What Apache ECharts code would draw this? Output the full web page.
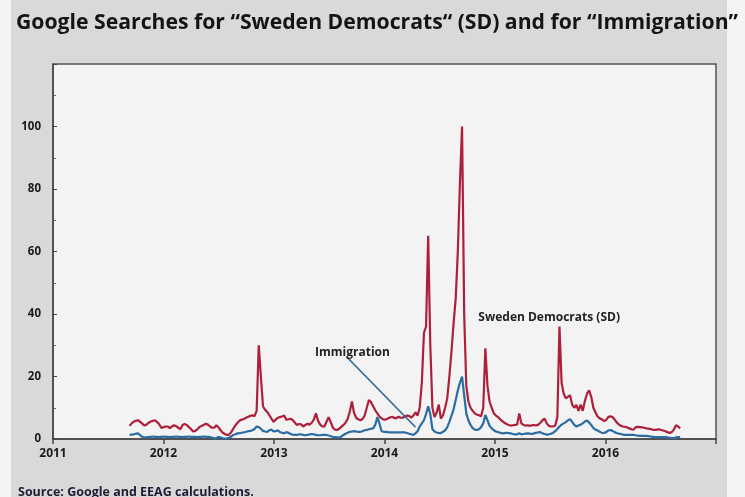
<!DOCTYPE html>
<html>
<head>
<meta charset="utf-8">
<script src="https://cdn.jsdelivr.net/npm/echarts@6/dist/echarts.min.js"></script>
<style>
  html, body { margin: 0; padding: 0; background: #f4f4f4; }
  #chart { width: 745px; height: 497px; }
</style>
</head>
<body>
<div id="chart"></div>
<script>
// Weekly Google search index, first week starting 2011-09-11
const firstWeekYear = 2011.693;
const weekInYears = 7 / 365.25;

const sdSearches = [
  4.2, 5, 5.6, 5.8, 6, 5.5, 4.9, 4.3, 4.6, 5.2,
  5.6, 5.8, 6, 5.4, 4.7, 3.5, 3.8, 4, 4, 3.5,
  4, 4.4, 4.1, 3.6, 3.1, 4.5, 4.8, 4.5, 3.8, 3.2,
  2.4, 2.6, 3.1, 3.8, 4.2, 4.5, 4.9, 4.6, 4, 3.6,
  3.6, 4.4, 3.7, 2.8, 2, 1.6, 1.3, 1.4, 2.2, 3.3,
  4.4, 5.2, 5.9, 6.2, 6.4, 6.8, 7.1, 7.4, 7.6, 7.3,
  9, 30, 20, 10.5, 9.3, 8.7, 7.6, 6.5, 5.5, 6.2,
  6.8, 7, 7.2, 7.5, 6.2, 6.3, 6.5, 6.1, 5.3, 4.5,
  4.8, 4.7, 4, 4.5, 4.9, 4.6, 5.2, 6.2, 8.2, 5.8,
  4.6, 4, 4, 5.5, 7, 5.4, 3.6, 3, 2.9, 3.3,
  3.9, 4.5, 5.2, 6.5, 8.8, 12, 8.3, 6.8, 6.3, 6,
  6.4, 7.5, 10, 12.5, 11.8, 10.5, 9.2, 8.2, 7.2, 6.6,
  6.2, 6.2, 6.6, 6.9, 7.1, 6.7, 6.7, 7.1, 6.8, 6.8,
  7.2, 7.5, 7.4, 6.8, 7.5, 8.5, 7.5, 10, 18, 34,
  36, 65, 30, 10, 7, 8.5, 11, 6.5, 7.6, 10,
  13, 20, 28, 37, 45, 60, 82, 100, 40, 17,
  12, 10, 9, 8.2, 7.8, 7.6, 7.3, 10, 29, 17,
  12, 10, 8.2, 7.5, 7, 6.3, 5.7, 5.2, 4.8, 4.5,
  4.3, 4.4, 4.5, 4.6, 8.2, 5, 4.5, 4.3, 4.4, 4.2,
  4.4, 4.5, 4.3, 4.6, 5.2, 6, 6.5, 5, 4.2, 4,
  4, 4.3, 7, 36, 18, 14.5, 13, 13.5, 14, 11,
  10, 10.9, 9, 11, 9, 12.2, 14.5, 15.6, 13.5, 10,
  8.5, 7.2, 6.6, 6.3, 5.8, 6, 7, 7.3, 7, 6.3,
  5.3, 4.7, 4.2, 4, 3.9, 3.7, 3.4, 3.1, 3, 3.8,
  3.9, 3.8, 3.7, 3.6, 3.4, 3.3, 3.2, 3, 2.9, 3,
  3.1, 2.9, 2.7, 2.5, 2.2, 1.9, 2.2, 3, 4.4, 4, 3.4
];

const immigrationSearches = [
  1.3, 1.4, 1.5, 1.7, 1.8, 1.2, 0.7, 0.5, 0.5, 0.6,
  0.7, 0.8, 0.7, 0.7, 0.6, 0.7, 0.8, 0.7, 0.7, 0.6,
  0.7, 0.7, 0.8, 0.7, 0.7, 0.6, 0.7, 0.7, 0.8, 0.7,
  0.7, 0.7, 0.6, 0.7, 0.7, 0.8, 0.7, 0.7, 0.6, 0.4,
  0.2, 0.3, 0.6, 0.5, 0.2, 0.1, 0.2, 0.4, 0.8, 1.3,
  1.5, 1.8, 1.9, 2, 2.1, 2.3, 2.5, 2.6, 2.8, 3.2,
  4, 3.8, 3.3, 2.6, 2.4, 2.3, 2.8, 3, 2.4, 2.5,
  2.8, 2.2, 2, 1.8, 2.2, 2, 1.6, 1.4, 1.3, 1.3,
  1.5, 1.5, 1.3, 1.2, 1.3, 1.5, 1.6, 1.5, 1.3, 1.2,
  1.2, 1.3, 1.3, 1.3, 1.1, 0.9, 0.7, 0.6, 0.5, 0.4,
  0.8, 1.3, 1.7, 2, 2.3, 2.4, 2.5, 2.4, 2.3, 2.3,
  2.5, 2.8, 2.9, 3.1, 3.3, 3.4, 4.5, 7, 5, 2.5,
  2.3, 2.3, 2.2, 2.1, 2.1, 2.1, 2.1, 2.1, 2.1, 2.1,
  2.1, 1.9, 1.7, 1.5, 1.3, 1.8, 2.5, 4, 5, 6,
  8, 10.5, 8, 3.2, 2.4, 2.1, 1.9, 1.9, 2.3, 2.8,
  3.7, 5.5, 7.5, 9.5, 12.5, 15.5, 18, 20, 14, 8.2,
  6, 4.5, 3.5, 3, 2.9, 3.1, 3.8, 5, 7.7, 6,
  4.2, 3.4, 2.8, 2.4, 2.2, 2, 1.8, 1.9, 2, 1.9,
  1.8, 1.6, 1.5, 1.5, 1.8, 1.5, 1.6, 1.7, 1.8, 1.7,
  1.6, 1.8, 2, 2.1, 2.2, 1.8, 1.6, 1.4, 1.5, 1.7,
  2, 2.5, 3.2, 4, 4.6, 5, 5.4, 6, 6.3, 5.5,
  4.5, 4, 4.3, 4.6, 5, 5.6, 5.9, 5.3, 4.5, 3.5,
  3, 2.7, 2.3, 2, 1.9, 2.2, 2.7, 2.9, 2.6, 2.2,
  1.9, 1.7, 1.6, 1.4, 1.3, 1.3, 1.3, 1.3, 1.3, 1.2,
  1.1, 1, 1, 1, 1, 0.9, 0.8, 0.7, 0.6, 0.6,
  0.6, 0.6, 0.6, 0.6, 0.5, 0.4, 0.3, 0.3, 0.5, 0.6, 0.6
];

const yearTicks = [2011, 2012, 2013, 2014, 2015, 2016, 2017];
const yTicks = [0, 20, 40, 60, 80, 100, 120];

const titleText = 'Google Searches for \u201CSweden Democrats\u201C (SD) and for \u201CImmigration\u201D';
const sourceText = 'Source: Google and EEAG calculations.';
const sdLabel = 'Sweden Democrats (SD)';
const immLabel = 'Immigration';

// annotation anchors (in data units)
const sdLabelAt = [2015.49, 39];
const immLabelAt = [2013.71, 27.8];
const immLeader = [[2013.66, 26.2], [2014.28, 3.8]];

const weekYear = i => +(firstWeekYear + i * weekInYears).toFixed(4);
const sdData = sdSearches.map((v, i) => [weekYear(i), v]);
const immData = immigrationSearches.map((v, i) => [weekYear(i), v]);

const chart = echarts.init(document.getElementById('chart'));
const labelFont = { fontFamily: '"Open Sans", Lato, sans-serif', fontWeight: 'bold' };

chart.setOption({
  backgroundColor: '#f4f4f4',
  animation: false,
  graphic: [
    { type: 'rect', z: -10, shape: { x: 11, y: 0, width: 716, height: 497 }, style: { fill: '#d9d9d9' } }
  ],
  title: [
    {
      text: titleText, left: 11, top: 7,
      textStyle: { fontSize: 21.2, fontWeight: 'bold', color: '#141414', fontFamily: '"Open Sans", Lato, sans-serif' }
    },
    {
      text: sourceText, left: 13, top: 481,
      textStyle: { fontSize: 12.5, fontWeight: 'bold', color: '#1d1d35', fontFamily: '"Open Sans", Lato, sans-serif' }
    }
  ],
  grid: {
    left: 53, right: 29, top: 64, bottom: 58,
    show: true, backgroundColor: '#f3f3f3', borderColor: '#555', borderWidth: 1.5
  },
  xAxis: {
    type: 'value', min: yearTicks[0], max: yearTicks[yearTicks.length - 1], interval: 1,
    axisLine: { show: true, lineStyle: { color: '#444', width: 1.5 } },
    axisTick: { show: true, inside: false, length: 5, lineStyle: { color: '#444', width: 1.5 } },
    splitLine: { show: false },
    axisLabel: {
      margin: 9, fontSize: 12, color: '#1a1a1a', ...labelFont,
      formatter: v => (v === yearTicks[yearTicks.length - 1] ? '' : String(v))
    }
  },
  yAxis: {
    type: 'value', min: yTicks[0], max: yTicks[yTicks.length - 1], interval: 20,
    axisLine: { show: true, lineStyle: { color: '#444', width: 1.5 } },
    axisTick: { show: true, inside: true, length: 4, lineStyle: { color: '#444' } },
    minorTick: { show: true, splitNumber: 2, length: 3, lineStyle: { color: '#666' } },
    splitLine: { show: false },
    axisLabel: {
      margin: 12, fontSize: 11.5, color: '#1a1a1a', ...labelFont,
      formatter: v => (v === yTicks[yTicks.length - 1] ? '' : String(v))
    }
  },
  series: [
    {
      name: sdLabel, type: 'line', data: sdData, showSymbol: false,
      lineStyle: { color: '#ad1f3a', width: 2.2 }, z: 3,
      markPoint: {
        symbol: 'circle', symbolSize: 0, silent: true,
        label: { show: true, position: 'inside', formatter: sdLabel, fontSize: 12, color: '#222', ...labelFont },
        data: [{ coord: sdLabelAt }]
      }
    },
    {
      name: immLabel, type: 'line', data: immData, showSymbol: false,
      lineStyle: { color: '#2b6ca3', width: 2.2 }, z: 4,
      markPoint: {
        symbol: 'circle', symbolSize: 0, silent: true,
        label: { show: true, position: 'inside', formatter: immLabel, fontSize: 12, color: '#222', ...labelFont },
        data: [{ coord: immLabelAt }]
      },
      markLine: {
        silent: true, symbol: 'none',
        lineStyle: { color: '#3a6d96', width: 1.5, type: 'solid' },
        label: { show: false },
        data: [[{ coord: immLeader[0] }, { coord: immLeader[1] }]]
      }
    }
  ]
});
</script>
</body>
</html>
